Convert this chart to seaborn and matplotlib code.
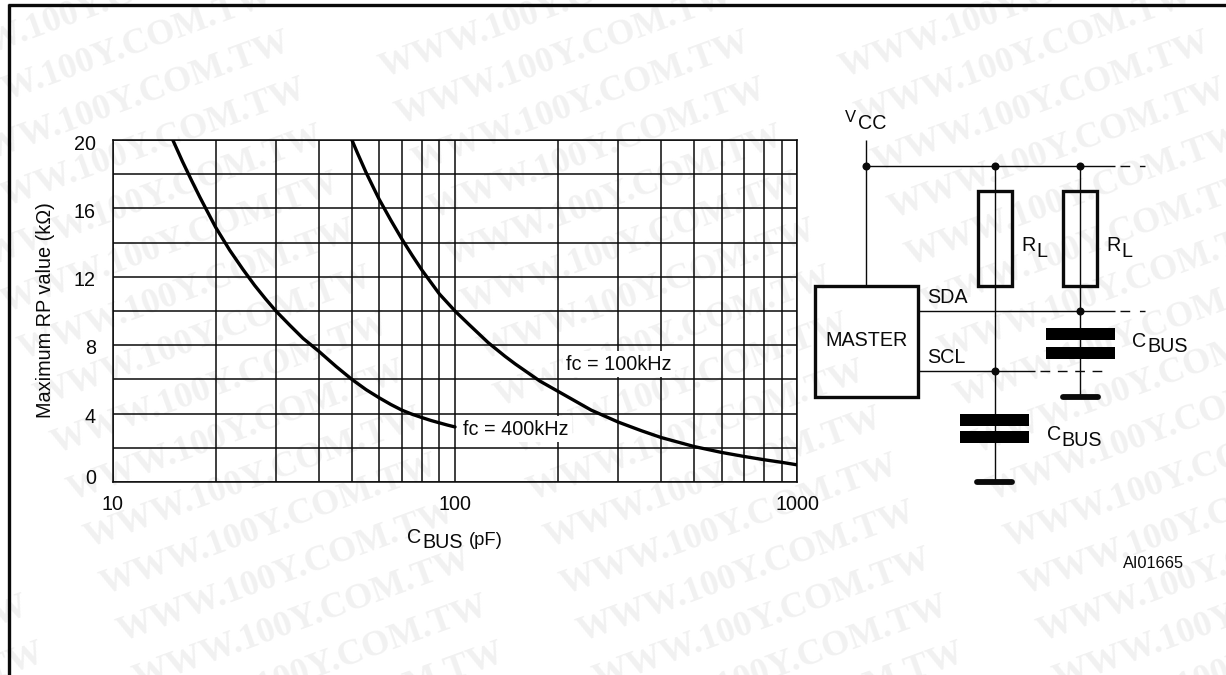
import matplotlib
matplotlib.use("Agg")
import matplotlib.pyplot as plt
from matplotlib.patches import Rectangle
from matplotlib.transforms import ScaledTranslation
import pandas as pd
import seaborn as sns

# ---- chart data ----
c_400 = [15, 16, 17, 18, 19, 20, 22, 24, 26, 28, 30, 33, 36, 40, 45, 50, 55, 60, 65, 70, 75, 80, 85, 90, 95, 100]
r_400 = [20, 18.75, 17.65, 16.65, 15.75, 14.9, 13.55, 12.45, 11.5, 10.7, 10, 9.15, 8.4, 7.65, 6.75, 6, 5.4, 4.93, 4.53, 4.2, 3.96, 3.77, 3.6, 3.46, 3.33, 3.22]
c_100 = [50, 52, 55, 58, 60, 65, 70, 75, 80, 90, 100, 110, 125, 140, 150, 177, 200, 250, 300, 350, 400, 500, 600, 700, 800, 900, 1000]
r_100 = [20, 19.2, 18.1, 17.15, 16.55, 15.3, 14.2, 13.25, 12.4, 11.0, 10.0, 9.2, 8.15, 7.35, 6.9, 5.9, 5.3, 4.2, 3.5, 3.0, 2.6, 2.07, 1.73, 1.49, 1.3, 1.15, 1.0]
x_ticks = [10, 100, 1000]
x_tick_labels = ["10", "100", "1000"]
y_ticks = [0, 4, 8, 12, 16, 20]
y_minor = [2, 6, 10, 14, 18]
x_minor = [20, 30, 40, 50, 60, 70, 80, 90, 200, 300, 400, 500, 600, 700, 800, 900]
watermark = "WWW.100Y.COM.TW"

W, H = 1226, 675
sns.set_theme(style="white")
FONT = ["Liberation Sans", "DejaVu Sans"]
plt.rcParams["font.family"] = FONT
INK = "#0a0a0a"
FS = 14.2

fig = plt.figure(figsize=(W / 100, H / 100), dpi=100, facecolor="white")

# ---- overlay in pixel units: frame, watermark, schematic ----
bg = fig.add_axes([0, 0, 1, 1], zorder=0)
bg.set_xlim(0, W)
bg.set_ylim(H, 0)
bg.axis("off")

for col in range(-1, 4):
    for row in range(-2, 15):
        xe, ye = 292 + 16.5 * row + 460 * col, 50 + 47 * row
        if xe < 30 or xe - 312 > W - 30 or ye - 114 > H - 30:
            continue
        bg.text(xe, ye, watermark, family=["Liberation Serif"], weight="bold",
                fontsize=26, color="#f1f1f1", rotation=20, rotation_mode="anchor",
                ha="right", va="baseline", zorder=1, clip_on=True)

def wire(xs, ys, lw=1.0, **kw):
    kw.setdefault("solid_capstyle", "butt")
    bg.plot(xs, ys, color=INK, lw=lw, zorder=3, **kw)

# frame
wire([7.5, W], [5, 5], lw=2.4)
wire([9, 9], [4, H], lw=2.4)

# supply rail and signal wires
wire([866, 866], [140, 286])
wire([866, 1115], [166, 166])
wire([918, 1115], [311, 311])
wire([918, 1035], [371, 371])
for xa, xb, y in [(1120, 1145, 166), (1120, 1145, 311)]:
    wire([xa, xb], [y, y], linestyle=(0, (7, 7)))
wire([1040, 1106], [371, 371], linestyle=(0, (7, 5.5)))

# branch wires
wire([995, 995], [166, 482])
wire([1080, 1080], [166, 397])

# dots
bg.plot([866, 995, 1080, 1080, 995], [166, 166, 166, 311, 371], "o",
        color=INK, ms=5.8, mew=0, zorder=4)

# resistors and master box
for x0, y0, w, h in [(978, 191, 34, 95), (1063, 191, 34, 95), (815, 286, 103, 111)]:
    bg.add_patch(Rectangle((x0, y0), w, h, fc="none", ec=INK, lw=2.4, zorder=3.5))

# capacitors
for x0, y0, w, h in [(960, 414, 69, 12), (960, 431, 69, 12), (1046, 328, 69, 12), (1046, 347, 69, 12)]:
    bg.add_patch(Rectangle((x0, y0), w, h, fc="black", ec="none", zorder=4))

# grounds
wire([977, 1012], [482, 482], lw=4.2, solid_capstyle="round")
wire([1063, 1098], [397, 397], lw=4.2, solid_capstyle="round")

def label(x, y, s, fs=FS):
    bg.text(x, y, s, fontsize=fs, color=INK, ha="left", va="baseline", zorder=5)

label(845, 122, "V", 12)
label(858, 129, "CC")
label(1021.5, 251, "R")
label(1036, 257, "L")
label(1106.5, 251, "R")
label(1121, 257, "L")
label(825, 346, "MASTER")
label(927, 303, "SDA")
label(927, 363, "SCL")
label(1132, 347, "C")
label(1147, 352, "BUS")
label(1046.5, 440, "C")
label(1061, 446, "BUS")
label(1123, 568, "AI01665", 11.8)
label(422, 548, "BUS")
label(469, 545, "(pF)", 13.2)

# ---- chart ----
L, R, T, B = 112.5, 797.5, 140, 482
ax = fig.add_axes([L / W, 1 - B / H, (R - L) / W, (B - T) / H], zorder=2)
ax.patch.set_alpha(0)
ax.set_xscale("log")
ax.set_xlim(10, 1000)
ax.set_ylim(0, 20)

df = pd.concat([
    pd.DataFrame({"CBUS": c_400, "R": r_400, "fc": "400kHz"}),
    pd.DataFrame({"CBUS": c_100, "R": r_100, "fc": "100kHz"}),
])
sns.lineplot(data=df, x="CBUS", y="R", units="fc", estimator=None, color="black",
             lw=2.4, ax=ax, legend=False, zorder=4)

ax.set_xticks(x_ticks)
ax.set_xticklabels(x_tick_labels, fontsize=FS, color=INK)
ax.set_xticks(x_minor, minor=True)
ax.set_xticklabels([], minor=True)
ax.set_yticks(y_ticks)
ax.set_yticklabels([str(v) for v in y_ticks], fontsize=FS, color=INK)
ax.set_yticks(y_minor, minor=True)
ax.tick_params(which="both", length=0)
ax.tick_params(axis="x", pad=9)
ax.tick_params(axis="y", pad=12)
ax.grid(which="both", color=INK, lw=1.1)
ax.set_axisbelow(True)
for s in ax.spines.values():
    s.set_visible(True)
    s.set_color(INK)
    s.set_linewidth(1.1)

# tick labels sit slightly off their grid lines in the original
y_shift = {0: 6, 4: -2, 8: -1.5, 12: -2, 16: -2.5, 20: -3}
for val, lab in zip(y_ticks, ax.get_yticklabels()):
    lab.set_transform(lab.get_transform() +
                      ScaledTranslation(0, y_shift[val] / 100, fig.dpi_scale_trans))

ax.set_ylabel("Maximum RP value (k\u03a9)", fontsize=14.3, color=INK)
ax.yaxis.set_label_coords((55 - L) / (R - L), (B - 310) / (B - T))
ax.set_xlabel("C", fontsize=FS, color=INK)
ax.xaxis.set_label_coords((414 - L) / (R - L), (B - 543) / (B - T))
ax.xaxis.label.set_va("baseline")

box = dict(fc="white", ec="none", pad=2.5)
ax.text(211, 6.88, "fc = 100kHz", fontsize=14.3, color=INK, ha="left", va="center", bbox=box, zorder=5)
ax.text(105.6, 3.09, "fc = 400kHz", fontsize=14.3, color=INK, ha="left", va="center", bbox=box, zorder=5)

fig.savefig("out.png", dpi=100)
